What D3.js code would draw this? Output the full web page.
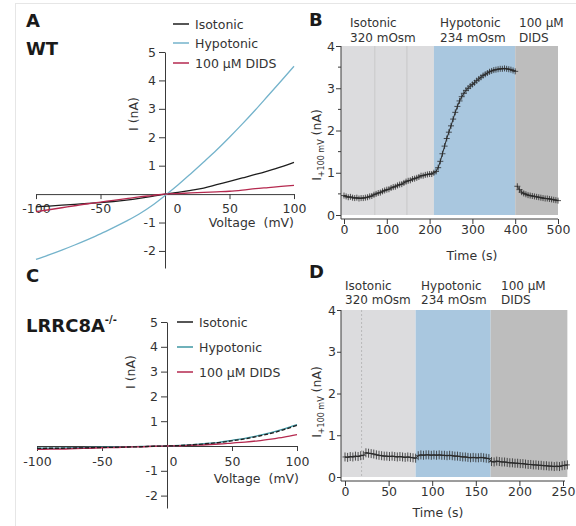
<!DOCTYPE html>
<html><head><meta charset="utf-8">
<script src="https://cdn.jsdelivr.net/npm/d3@7"></script>
<style>
body{margin:0;background:#fff;}
svg text{font-family:"DejaVu Sans",sans-serif;}
.axis path,.axis line{stroke:#3a3a3a;stroke-width:1;}
.axis text{font-family:"DejaVu Sans",sans-serif;font-size:12.5px;fill:#333;}
</style></head><body>
<script>
// ---------- DATA ----------
const seriesNames = ["Isotonic", "Hypotonic", "100 µM DIDS"];
const voltage = [-100,-90,-80,-70,-60,-50,-40,-30,-20,-10,0,10,20,30,40,50,60,70,80,90,100];
// Panel A (WT), current in nA
const aIso  = [-0.45,-0.42,-0.39,-0.36,-0.33,-0.30,-0.26,-0.21,-0.15,-0.08,0.00,0.06,0.13,0.21,0.33,0.45,0.57,0.69,0.82,0.96,1.12];
const aHypo = [-2.30,-2.14,-1.97,-1.79,-1.60,-1.40,-1.18,-0.95,-0.70,-0.40,-0.05,0.32,0.72,1.13,1.55,2.00,2.47,2.96,3.47,3.98,4.50];
const aDids = [-0.62,-0.55,-0.48,-0.41,-0.34,-0.28,-0.22,-0.16,-0.10,-0.05,0.00,0.02,0.04,0.06,0.08,0.10,0.14,0.19,0.23,0.27,0.31];
// Panel C (LRRC8A-/-)
const cIso  = [-0.10,-0.09,-0.09,-0.08,-0.07,-0.06,-0.05,-0.04,-0.03,-0.01,0.00,0.02,0.05,0.09,0.14,0.21,0.29,0.39,0.51,0.66,0.83];
const cHypo = [-0.09,-0.09,-0.08,-0.07,-0.06,-0.05,-0.04,-0.03,-0.02,-0.01,0.00,0.02,0.05,0.10,0.15,0.23,0.31,0.42,0.54,0.69,0.86];
const cDids = [-0.14,-0.13,-0.12,-0.10,-0.09,-0.07,-0.06,-0.04,-0.03,-0.01,0.00,0.01,0.03,0.05,0.08,0.12,0.16,0.21,0.28,0.36,0.46];
const ivTicksX = [-100,-50,0,50,100];
const ivTicksY = [-2,-1,1,2,3,4,5];

// Panel B (WT time course, I at +100 mV)
const bTime = d3.range(0, 501, 5);
const bCurrent = [
 0.46,0.44,0.42,0.43,0.41,0.40,0.41,0.39,0.40,0.40,
 0.41,0.42,0.44,0.45,0.48,0.50,0.52,0.53,0.56,0.58,
 0.60,0.61,0.64,0.66,0.67,0.70,0.72,0.73,0.76,0.79,
 0.81,0.82,0.85,0.86,0.88,0.90,0.93,0.93,0.95,0.96,
 0.97,0.97,1.00,1.03,1.12,1.27,1.45,1.63,1.81,1.96,
 2.11,2.27,2.43,2.57,2.70,2.80,2.88,2.95,3.00,3.05,
 3.09,3.13,3.18,3.22,3.26,3.30,3.33,3.36,3.39,3.41,
 3.43,3.44,3.45,3.46,3.46,3.47,3.46,3.45,3.44,3.42,
 3.40,0.68,0.60,0.54,0.51,0.49,0.47,0.46,0.45,0.44,
 0.43,0.42,0.41,0.40,0.39,0.39,0.38,0.37,0.36,0.35,0.34];
const bPhaseEdges = [0, 210, 400, 500];
const bBreak = 400;
const bMarks = [72, 147];
const tTicksB = [0,100,200,300,400,500];

// Panel D (LRRC8A-/- time course)
const dTime = d3.range(0, 256, 3);
const dCurrent = [
 0.48,0.47,0.49,0.48,0.50,0.49,0.51,0.52,0.58,0.57,
 0.56,0.55,0.53,0.52,0.51,0.50,0.50,0.49,0.50,0.49,
 0.48,0.49,0.48,0.47,0.48,0.47,0.46,0.45,0.51,0.53,
 0.52,0.53,0.53,0.52,0.53,0.52,0.53,0.52,0.52,0.51,
 0.52,0.51,0.50,0.50,0.49,0.48,0.48,0.47,0.46,0.47,
 0.46,0.46,0.47,0.46,0.45,0.44,0.37,0.36,0.38,0.37,
 0.36,0.36,0.35,0.34,0.34,0.33,0.33,0.32,0.32,0.31,
 0.30,0.30,0.29,0.29,0.28,0.28,0.27,0.27,0.26,0.26,
 0.25,0.26,0.25,0.27,0.28,0.29];
const dPhaseEdges = [0, 81, 167, 255];
const dMarks = [19];
const tTicksD = [0,50,100,150,200,250];

const tTicksY = [0,1,2,3,4];
const tMinorY = [0.5,1.5,2.5,3.5];
const phaseLabels = [["Isotonic","320 mOsm"],["Hypotonic","234 mOsm"],["100 µM","DIDS"]];

// ---------- STYLE ----------
const FS = 12.5;
const colA = ["#1e1e1e","#74b3cb","#b5294f"];
const colC = ["#1e1e1e","#3f97a3","#b5294f"];
const phaseFill = ["#dcdcde","#a9c7df","#bdbdbd"];
const fmt = d => String(d);

const svg = d3.select("body").append("svg").attr("width",576).attr("height",526);
svg.append("rect").attr("x",15.5).attr("y",3.5).attr("width",620).attr("height",620)
  .attr("fill","none").attr("stroke","#e6e6e6");

function bold(x,y,txt,size){
  return svg.append("text").attr("x",x).attr("y",y).attr("font-family","Liberation Sans, Arial, sans-serif")
    .attr("font-weight","bold").attr("font-size",size||18).attr("fill","#1a1a1a").text(txt);
}

// ---------- IV PANELS ----------
function ivPanel(o){
  const g = svg.append("g");
  const xs=o.xs, ys=o.ys;
  const xa = g.append("g").attr("class","axis").attr("transform",`translate(0,${ys(0)})`)
    .call(d3.axisBottom(xs).tickValues(ivTicksX).tickFormat(fmt).tickSize(5).tickSizeOuter(0).tickPadding(o.xPad));
  xa.selectAll(".tick text").filter(d=>d===0).attr("x",o.zeroShift);
  g.append("g").attr("class","axis").attr("transform",`translate(${xs(0)},0)`)
    .call(d3.axisLeft(ys).tickValues(ivTicksY).tickFormat(fmt).tickSize(6).tickSizeOuter(0).tickPadding(3));
  g.append("text").attr("x",o.xTitle[0]).attr("y",o.xTitle[1]).attr("text-anchor","end")
    .attr("font-size",FS).attr("fill","#333").text("Voltage\u00a0 (mV)");
  g.append("text").attr("transform",`translate(${o.yTitle[0]},${o.yTitle[1]}) rotate(-90)`)
    .attr("text-anchor","middle").attr("font-size",FS).attr("fill","#333").text("I (nA)");
  const line = d3.line().x((d,i)=>xs(voltage[i])).y(d=>ys(d)).curve(d3.curveMonotoneX);
  o.order.forEach(k=>{
    g.append("path").attr("d",line(o.series[k])).attr("fill","none")
      .attr("stroke",o.colors[k]).attr("stroke-width",1.3)
      .attr("stroke-dasharray", (o.dash && k===0) ? "4,2" : null);
  });
  seriesNames.forEach((n,k)=>{
    const y=o.leg[2][k];
    g.append("line").attr("x1",o.leg[0]).attr("x2",o.leg[0]+16).attr("y1",y).attr("y2",y)
      .attr("stroke",o.colors[k]).attr("stroke-width",1.5);
    g.append("text").attr("x",o.leg[1]).attr("y",y+4.5).attr("font-size",FS).attr("fill","#333").text(n);
  });
}

ivPanel({
  xs: d3.scaleLinear().domain([-100,100]).range([36,294]),
  ys: d3.scaleLinear().domain([-2.6,5]).range([268,52]),
  xPad:5, zeroShift:12, xTitle:[294,227], yTitle:[138,114],
  series:[aIso,aHypo,aDids], colors:colA, order:[0,1,2],
  leg:[173,195,[24,43,63]]
});
ivPanel({
  xs: d3.scaleLinear().domain([-100,100]).range([37,297]),
  ys: d3.scaleLinear().domain([-2.5,5]).range([508,322]),
  xPad:6, zeroShift:6, xTitle:[299,483], yTitle:[135,372],
  series:[cIso,cHypo,cDids], colors:colC, order:[1,2,0], dash:true,
  leg:[177,199,[322,347,372]]
});

// ---------- TIME PANELS ----------
function timePanel(o){
  const g = svg.append("g");
  const xs=o.xs, ys=o.ys, ax=o.axisX, ay=ys(0)+4;
  for(let i=0;i<3;i++){
    const x0 = i===0 ? ax : xs(o.edges[i]);
    const x1 = xs(o.edges[i+1]);
    g.append("rect").attr("x",x0).attr("y",ys(4)).attr("width",x1-x0).attr("height",ys(0)-ys(4))
      .attr("fill",phaseFill[i]);
  }
  o.marks.forEach(m=>{
    g.append("line").attr("x1",xs(m)).attr("x2",xs(m)).attr("y1",ys(4)).attr("y2",ys(0))
      .attr("stroke",o.markColor).attr("stroke-width",0.8).attr("stroke-dasharray",o.markDash);
  });
  const ya = g.append("g").attr("class","axis").attr("transform",`translate(${ax},0)`)
    .call(d3.axisLeft(ys).tickValues(tTicksY).tickFormat(fmt).tickSize(o.ytick).tickPadding(1));
  ya.select(".domain").remove();
  if(o.minor){
    tMinorY.forEach(v=>ya.append("line").attr("x1",-3).attr("x2",0).attr("y1",ys(v)).attr("y2",ys(v)).attr("stroke","#3a3a3a"));
  }
  g.append("line").attr("x1",ax).attr("x2",ax).attr("y1",ys(4)).attr("y2",ay).attr("stroke","#3a3a3a");
  const xa = g.append("g").attr("class","axis").attr("transform",`translate(0,${ay})`)
    .call(d3.axisBottom(xs).tickValues(o.xticks).tickFormat(fmt).tickSize(5).tickPadding(1));
  xa.select(".domain").remove();
  g.append("line").attr("x1",ax).attr("x2",o.axisEnd).attr("y1",ay).attr("y2",ay).attr("stroke","#3a3a3a");
  g.append("text").attr("x",o.tTitle[0]).attr("y",o.tTitle[1]).attr("text-anchor","middle")
    .attr("font-size",FS).attr("fill","#333").text("Time (s)");
  const yl = g.append("text").attr("transform",`translate(${o.yTitle[0]},${o.yTitle[1]}) rotate(-90)`)
    .attr("text-anchor","middle").attr("font-size",FS).attr("fill","#333");
  yl.append("tspan").text("I");
  yl.append("tspan").attr("font-size",8).attr("dy",3).text("+100 mV");
  yl.append("tspan").attr("dy",-3).text(" (nA)");
  phaseLabels.forEach((pl,i)=>{
    g.append("text").attr("x",o.hx[i]).attr("y",o.hy[0]).attr("font-size",12).attr("fill","#333").text(pl[0]);
    g.append("text").attr("x",o.hx[i]).attr("y",o.hy[1]).attr("font-size",12).attr("fill","#333").text(pl[1]);
  });
  const pts = o.t.map((t,i)=>({t, v:o.v[i]}));
  const segs = o.brk==null ? [pts] : [pts.filter(p=>p.t<=o.brk), pts.filter(p=>p.t>o.brk)];
  const line = d3.line().x(d=>xs(d.t)).y(d=>ys(d.v));
  segs.forEach(s=>g.append("path").attr("d",line(s)).attr("fill","none").attr("stroke","#2a2a2a").attr("stroke-width",1));
  const mh=o.mk[0], mv=o.mk[1];
  g.append("path").attr("fill","none").attr("stroke","#2a2a2a").attr("stroke-width",0.8)
    .attr("d", pts.map(p=>{const x=xs(p.t), y=ys(p.v); return `M${x-mh},${y}h${2*mh}M${x},${y-mv}v${2*mv}`;}).join(""));
}

timePanel({
  xs: d3.scaleLinear().domain([0,500]).range([344,558]),
  ys: d3.scaleLinear().domain([0,4]).range([215,46]),
  axisX:341, axisEnd:558, edges:bPhaseEdges, marks:bMarks, markColor:"#c4c4c4", markDash:null,
  ytick:5, minor:true, xticks:tTicksB, tTitle:[472,260], yTitle:[321,145],
  hx:[350,440,519], hy:[27,42], t:bTime, v:bCurrent, brk:bBreak, mk:[3,3]
});
timePanel({
  xs: d3.scaleLinear().domain([0,250]).range([345,563]),
  ys: d3.scaleLinear().domain([0,4]).range([477,310]),
  axisX:341, axisEnd:565, edges:dPhaseEdges, marks:dMarks, markColor:"#b0b0b0", markDash:"2,2",
  ytick:4, minor:false, xticks:tTicksD, tTitle:[438,517], yTitle:[321,402],
  hx:[345,421,501], hy:[290,304], t:dTime, v:dCurrent, brk:null, mk:[2.5,4.5]
});

// ---------- PANEL LABELS ----------
bold(26,27,"A");
bold(26,55,"WT");
bold(309,26,"B");
bold(26,282,"C");
bold(309,278,"D");
const lr = bold(26,332,"LRRC8A");
lr.append("tspan").attr("font-size",10).attr("dy",-9).text("-/-");
</script>
</body></html>
